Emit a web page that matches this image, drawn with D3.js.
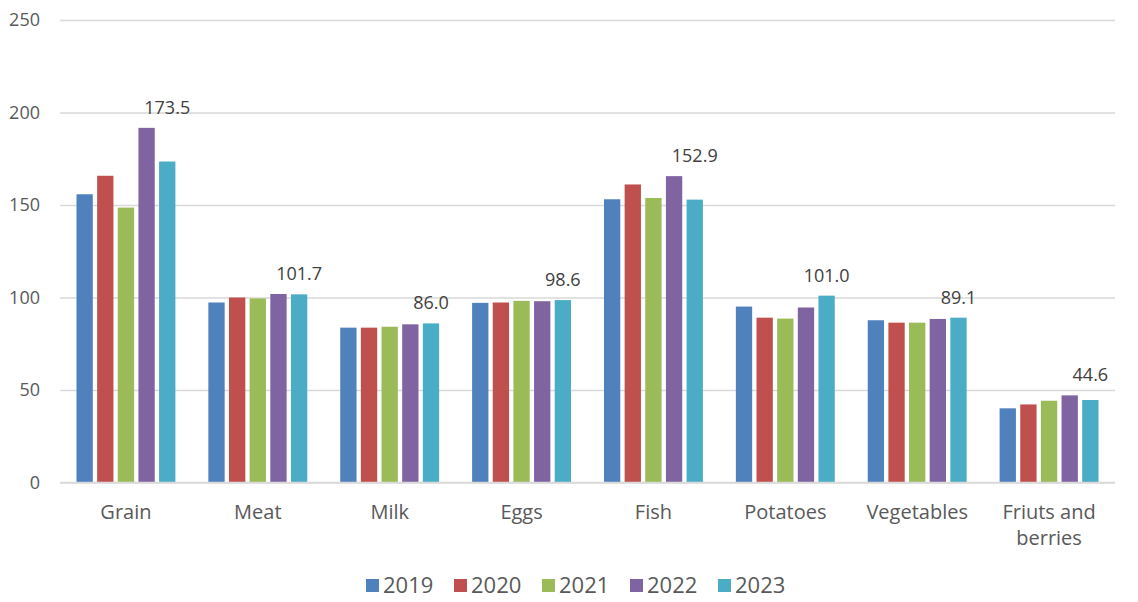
<!DOCTYPE html>
<html>
<head>
<meta charset="utf-8">
<script src="https://cdn.jsdelivr.net/npm/d3@7"></script>
<style>
  html, body { margin: 0; padding: 0; background: #fff; }
  svg { display: block; font-family: "Open Sans", sans-serif; }
</style>
</head>
<body>
<svg id="chart" width="1138" height="602"></svg>
<script>
const categories = ["Grain", "Meat", "Milk", "Eggs", "Fish", "Potatoes", "Vegetables", "Friuts and berries"];
const years = ["2019", "2020", "2021", "2022", "2023"];
const v2019 = [155.8, 97.3, 83.7, 97.1, 153.1, 95.1, 87.7, 40.1];
const v2020 = [165.8, 100.0, 83.7, 97.3, 161.1, 89.1, 86.4, 42.2];
const v2021 = [148.6, 99.5, 84.2, 98.2, 153.8, 88.6, 86.4, 44.2];
const v2022 = [191.7, 101.9, 85.5, 98.0, 165.6, 94.6, 88.4, 47.1];
const v2023 = [173.5, 101.7, 86.0, 98.6, 152.9, 101.0, 89.1, 44.6];
const yTicks = [0, 50, 100, 150, 200, 250];
const colors = ["#4F81BD", "#C0504D", "#9BBB59", "#8064A2", "#4BACC6"];

const series = [v2019, v2020, v2021, v2022, v2023];
const svg = d3.select("#chart");
const mLeft = 60, mRight = 1115, mTop = 20, mBottom = 482.5;

const x0 = d3.scaleBand().domain(categories).range([mLeft, mRight]).paddingInner(0.25).paddingOuter(0.125);
const x1 = d3.scaleBand().domain(years).range([0, x0.bandwidth()]).paddingInner(0.21).paddingOuter(0);
const y = d3.scaleLinear().domain([0, 250]).range([mBottom, mTop]);
const color = d3.scaleOrdinal().domain(years).range(colors);

// gridlines
const yAxis = d3.axisLeft(y).tickValues(yTicks).tickSize(-(mRight - mLeft)).tickPadding(20);
const gy = svg.append("g").attr("transform", `translate(${mLeft},0)`).call(yAxis);
gy.select(".domain").remove();
gy.selectAll(".tick line").attr("stroke", "#d9d9d9").attr("stroke-width", 1.5);
gy.selectAll(".tick text").attr("fill", "#595959").style("font-size", "18px").style("font-family", "'Open Sans', sans-serif");

// bars
const groups = svg.append("g").selectAll("g").data(categories).join("g")
  .attr("transform", d => `translate(${x0(d)},0)`);
groups.selectAll("rect").data((c, i) => years.map((yr, j) => ({ yr, v: series[j][i] })))
  .join("rect")
  .attr("x", d => x1(d.yr))
  .attr("width", x1.bandwidth())
  .attr("y", d => y(d.v))
  .attr("height", d => y(0) - y(d.v))
  .attr("fill", d => color(d.yr));

// baseline
svg.append("line").attr("x1", mLeft).attr("x2", mRight).attr("y1", y(0)).attr("y2", y(0))
  .attr("stroke", "#d9d9d9").attr("stroke-width", 1.5);

// data labels (2023)
groups.append("text")
  .attr("x", x1("2023") + x1.bandwidth() / 2)
  .attr("y", (c, i) => y(d3.max(series, s => s[i])) - 14)
  .attr("text-anchor", "middle")
  .attr("fill", "#404040")
  .style("font-size", "18px")
  .text((c, i) => d3.format(".1f")(v2023[i]));

// category labels
const xAxis = d3.axisBottom(x0).tickSize(0).tickPadding(22);
const gx = svg.append("g").attr("transform", `translate(0,${mBottom})`).call(xAxis);
gx.select(".domain").remove();
gx.selectAll(".tick text").attr("fill", "#595959").style("font-size", "20px").style("font-family", "'Open Sans', sans-serif")
  .each(function(d) {
    const t = d3.select(this);
    if (d === "Friuts and berries") {
      t.text(null);
      t.append("tspan").attr("x", 0).attr("dy", "0.71em").text("Friuts and");
      t.append("tspan").attr("x", 0).attr("dy", "1.3em").text("berries");
      t.attr("dy", null);
    }
  });

// legend
const legendX = d3.scaleBand().domain(years).range([366, 806]);
const leg = svg.append("g").selectAll("g").data(years).join("g")
  .attr("transform", d => `translate(${legendX(d)},0)`);
leg.append("rect").attr("x", 0).attr("y", 579).attr("width", 13).attr("height", 13).attr("fill", d => color(d));
leg.append("text").attr("x", 17).attr("y", 593).attr("fill", "#595959").style("font-size", "22px").text(d => d);
</script>
</body>
</html>
